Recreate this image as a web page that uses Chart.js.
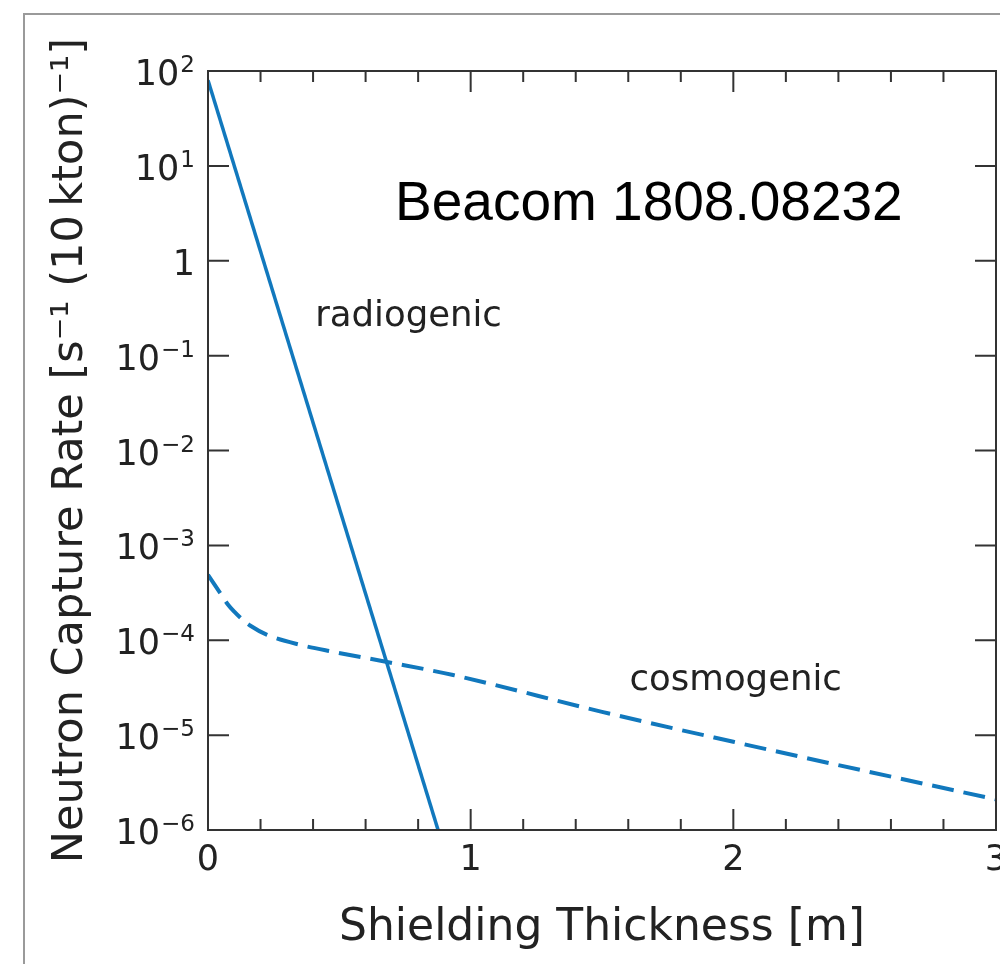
<!DOCTYPE html>
<html><head><meta charset="utf-8">
<script src="https://cdn.jsdelivr.net/npm/chart.js@4"></script>
<style>html,body{margin:0;padding:0;background:#fff;overflow:hidden}</style>
</head><body>
<canvas id="c" width="1000" height="964"></canvas>
<script>
// ---- data ----
const radiogenicX = [0, 0.876];
const radiogenicY = [80, 1e-6];
const cosmogenicX = [0, 0.046, 0.075, 0.1, 0.13, 0.16, 0.225, 0.35, 0.477, 0.682, 0.933, 1.5, 2.0, 2.5, 3.0];
const cosmogenicY = [4.9e-4, 3.16e-4, 2.4e-4, 2.0e-4, 1.66e-4, 1.43e-4, 1.14e-4, 8.95e-5, 7.55e-5, 5.9e-5, 4.3e-5, 1.76e-5, 8.5e-6, 4.2e-6, 2.1e-6];
const xTickValues = [0, 1, 2, 3];
const xTickLabels = ['0', '1', '2', '3'];
const xMinorValues = [0.2, 0.4, 0.6, 0.8, 1.2, 1.4, 1.6, 1.8, 2.2, 2.4, 2.6, 2.8];
const yTickValues = [1e-6, 1e-5, 1e-4, 1e-3, 1e-2, 1e-1, 1, 1e1, 1e2];
const yTickBases = ['10', '10', '10', '10', '10', '10', '1', '10', '10'];
const yTickExponents = ['\u22126', '\u22125', '\u22124', '\u22123', '\u22122', '\u22121', '', '1', '2'];
const seriesNames = ['radiogenic', 'cosmogenic'];
const noteText = 'Beacom 1808.08232';
const xTitle = 'Shielding Thickness [m]';
const yTitle = 'Neutron Capture Rate [s\u207B\u00B9 (10\u2009kton)\u207B\u00B9]';

const BLUE = '#1178bd';
const AX = '#333333';
const TXT = '#222222';

const decor = {
  id: 'decor',
  beforeDraw(chart) {
    const ctx = chart.ctx;
    ctx.save();
    ctx.fillStyle = '#fff';
    ctx.fillRect(0, 0, chart.width, chart.height);
    ctx.strokeStyle = '#9a9a9a';
    ctx.lineWidth = 2;
    ctx.beginPath();
    ctx.moveTo(24, chart.height + 5);
    ctx.lineTo(24, 14);
    ctx.lineTo(chart.width + 5, 14);
    ctx.stroke();
    ctx.restore();
  },
  afterDatasetsDraw(chart) {
    const ctx = chart.ctx;
    const a = chart.chartArea;
    const xs = chart.scales.x, ys = chart.scales.y;
    ctx.save();
    ctx.strokeStyle = AX;
    ctx.lineWidth = 2;
    ctx.strokeRect(a.left, a.top, a.right - a.left, a.bottom - a.top);
    ctx.beginPath();
    const tick = (v, len) => {
      const p = xs.getPixelForValue(v);
      ctx.moveTo(p, a.bottom); ctx.lineTo(p, a.bottom - len);
      ctx.moveTo(p, a.top); ctx.lineTo(p, a.top + len);
    };
    xTickValues.forEach(v => tick(v, 21));
    xMinorValues.forEach(v => tick(v, 11));
    yTickValues.forEach(v => {
      const p = ys.getPixelForValue(v);
      ctx.moveTo(a.left, p); ctx.lineTo(a.left + 21, p);
      ctx.moveTo(a.right, p); ctx.lineTo(a.right - 21, p);
    });
    ctx.stroke();

    // y tick labels with real superscripts
    ctx.fillStyle = TXT;
    ctx.textBaseline = 'alphabetic';
    ctx.textAlign = 'left';
    const rightEdge = a.left - 13;
    yTickValues.forEach((v, i) => {
      const p = ys.getPixelForValue(v);
      ctx.font = '23px "DejaVu Sans"';
      const ew = yTickExponents[i] ? ctx.measureText(yTickExponents[i]).width + 1 : 0;
      ctx.font = '35px "DejaVu Sans"';
      const bw = ctx.measureText(yTickBases[i]).width;
      const x0 = rightEdge - ew - bw;
      ctx.fillText(yTickBases[i], x0, p + 14);
      if (yTickExponents[i]) {
        ctx.font = '23px "DejaVu Sans"';
        ctx.fillText(yTickExponents[i], x0 + bw + 1, p + 1);
      }
    });

    // annotations
    ctx.fillStyle = '#000';
    ctx.font = '55px "Liberation Sans", Arial, sans-serif';
    ctx.fillText(noteText, xs.getPixelForValue(0.712), ys.getPixelForValue(2.7));
    ctx.fillStyle = TXT;
    ctx.font = '35.5px "DejaVu Sans"';
    ctx.fillText(seriesNames[0], xs.getPixelForValue(0.408), ys.getPixelForValue(0.206));
    ctx.fillText(seriesNames[1], xs.getPixelForValue(1.605), ys.getPixelForValue(3.0e-5));
    ctx.restore();
  }
};

new Chart(document.getElementById('c'), {
  type: 'line',
  data: {
    datasets: [
      {
        label: seriesNames[0],
        data: radiogenicX.map((x, i) => ({x, y: radiogenicY[i]})),
        borderColor: BLUE, borderWidth: 3.5, pointRadius: 0, tension: 0, fill: false
      },
      {
        label: seriesNames[1],
        data: cosmogenicX.map((x, i) => ({x, y: cosmogenicY[i]})),
        borderColor: BLUE, borderWidth: 4, borderDash: [22, 10], pointRadius: 0,
        cubicInterpolationMode: 'monotone', fill: false
      }
    ]
  },
  options: {
    responsive: false,
    animation: false,
    layout: {padding: {top: 71, right: 4, bottom: 0, left: 0}},
    plugins: {legend: {display: false}, tooltip: {enabled: false}},
    scales: {
      x: {
        type: 'linear', min: 0, max: 3,
        grid: {display: false, drawTicks: false},
        border: {display: false},
        afterBuildTicks: s => { s.ticks = xTickValues.map(v => ({value: v})); },
        afterFit: s => { s.height = 134; s.paddingLeft = 0; s.paddingRight = 0; },
        ticks: {
          color: TXT, padding: 10, maxRotation: 0, autoSkip: false,
          font: {family: 'DejaVu Sans', size: 35},
          callback: (v, i) => xTickLabels[i]
        },
        title: {display: true, text: xTitle, color: TXT,
          font: {family: 'DejaVu Sans', size: 44}, padding: {top: 0, bottom: 9}}
      },
      y: {
        type: 'logarithmic', min: 1e-6, max: 1e2,
        grid: {display: false, drawTicks: false},
        border: {display: false},
        afterBuildTicks: s => { s.ticks = yTickValues.map(v => ({value: v})); },
        afterFit: s => { s.width = 208; s.paddingTop = 0; s.paddingBottom = 0; },
        ticks: {display: false},
        title: {display: true, text: yTitle, color: TXT,
          font: {family: 'DejaVu Sans', size: 43}, padding: {top: 45, bottom: 0}}
      }
    }
  },
  plugins: [decor]
});
</script>
</body></html>
